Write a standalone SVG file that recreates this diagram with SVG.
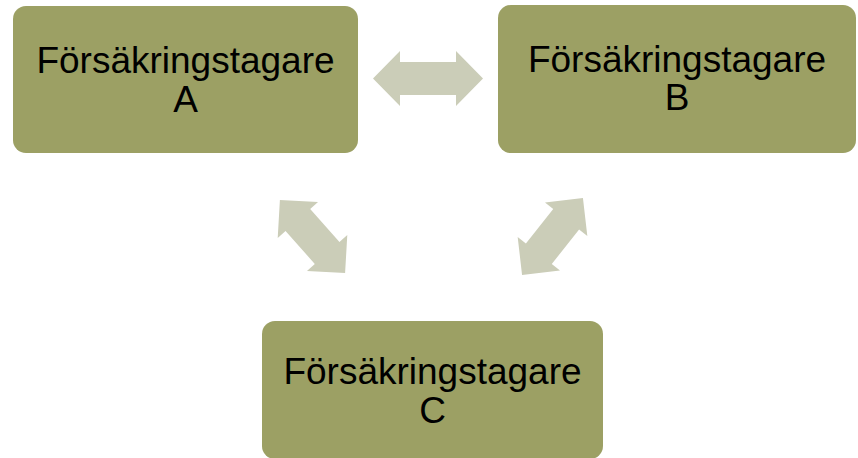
<svg xmlns="http://www.w3.org/2000/svg" width="858" height="458" viewBox="0 0 858 458">
<style>
.box{fill:#9CA064;}
.lbl{font-family:"Liberation Sans",Arial,sans-serif;font-size:37px;fill:#000;text-anchor:middle;}
.arr{fill:#CBCDB8;}
</style>
<defs>
<polygon id="dbl" points="-49,0 -22,-27 -22,-16.5 22,-16.5 22,-27 49,0 22,27 22,16.5 -22,16.5 -22,27"/>
</defs>
<rect width="858" height="458" fill="#fff"/>
<g id="connectors">
<polygon class="arr" points="373,78.5 400,51 400,62 456,62 456,51 483,78.5 456,106 456,95 400,95 400,106"/>
<use href="#dbl" class="arr" transform="translate(312.5,236.5) rotate(48.3)"/>
<use href="#dbl" class="arr" transform="translate(552.5,236.5) rotate(-51.6)"/>
</g>
<g id="nodeA">
<rect class="box" x="13" y="6" width="345" height="147" rx="13"/>
<text class="lbl" x="185.5" y="72.5">Försäkringstagare</text>
<text class="lbl" x="185.5" y="111.5">A</text>
</g>
<g id="nodeB">
<rect class="box" x="498" y="5" width="358" height="148" rx="13"/>
<text class="lbl" x="677" y="72">Försäkringstagare</text>
<text class="lbl" x="677" y="110">B</text>
</g>
<g id="nodeC">
<rect class="box" x="262" y="321" width="341" height="138" rx="13"/>
<text class="lbl" x="432.5" y="383.5">Försäkringstagare</text>
<text class="lbl" x="432.5" y="422.5">C</text>
</g>
</svg>
